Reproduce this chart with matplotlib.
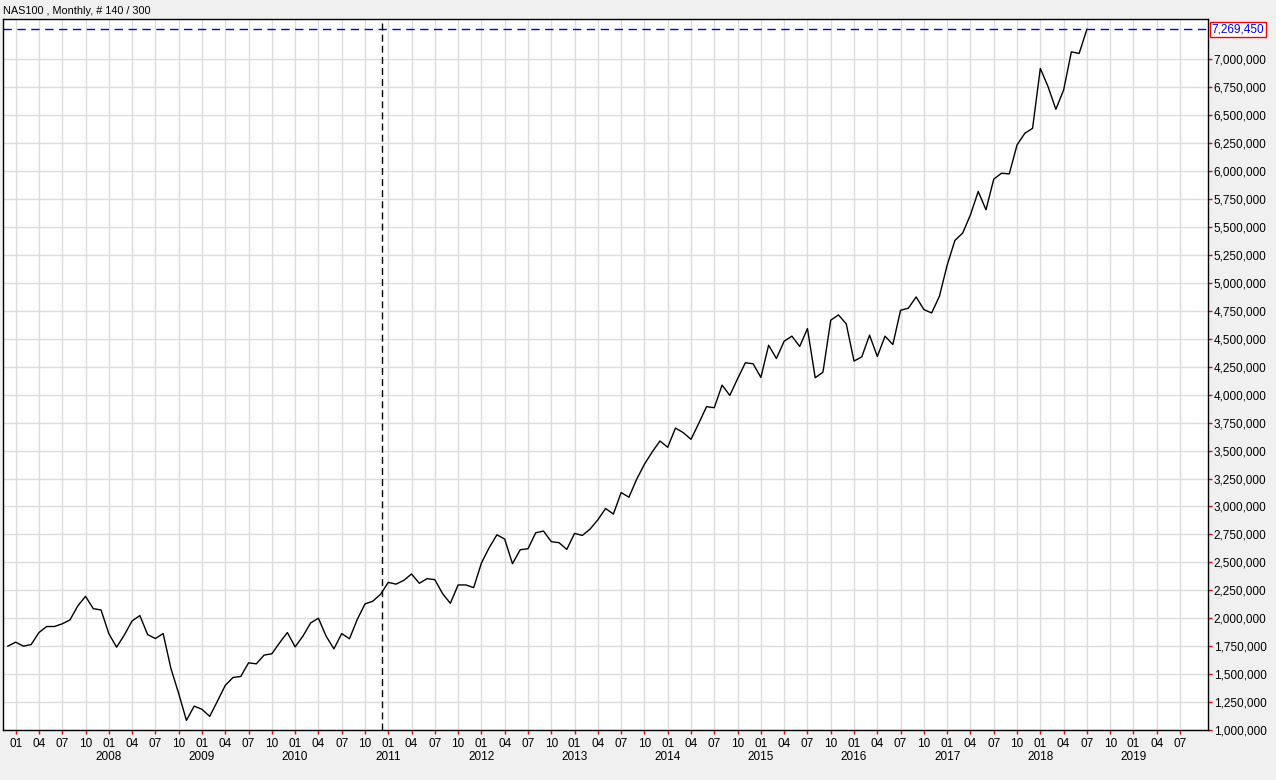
#Grafica mensual NAS100

import matplotlib.pyplot as plt

plt.rcParams["font.family"] = ["Liberation Sans", "DejaVu Sans"]

# cierres mensuales desde 12/2006 hasta 07/2018 (140 barras)
closes = [
    1750000, 1786000, 1750000, 1765000, 1872000, 1926000, 1926000, 1950000, 1985000, 2110000,
    2196000, 2086000, 2074000, 1863000, 1741000, 1850000, 1976000, 2024000, 1854000, 1818000,
    1863000, 1551000, 1327000, 1086000, 1214000, 1185000, 1122000, 1259000, 1399000, 1470000,
    1479000, 1601000, 1592000, 1670000, 1682000, 1780000, 1872000, 1744000, 1839000, 1958000,
    2000000, 1839000, 1726000, 1863000, 1816000, 1988000, 2128000, 2152000, 2214000, 2321000,
    2305000, 2339000, 2396000, 2313000, 2354000, 2345000, 2220000, 2134000, 2298000, 2298000,
    2274000, 2494000, 2631000, 2747000, 2708000, 2488000, 2613000, 2622000, 2765000, 2780000,
    2685000, 2676000, 2616000, 2759000, 2741000, 2798000, 2881000, 2982000, 2932000, 3125000,
    3083000, 3244000, 3378000, 3488000, 3586000, 3530000, 3702000, 3661000, 3601000, 3744000,
    3893000, 3884000, 4086000, 3994000, 4143000, 4286000, 4277000, 4155000, 4443000, 4324000,
    4479000, 4524000, 4432000, 4592000, 4152000, 4202000, 4667000, 4714000, 4634000, 4301000,
    4339000, 4533000, 4342000, 4524000, 4449000, 4756000, 4774000, 4875000, 4762000, 4732000,
    4881000, 5160000, 5381000, 5447000, 5610000, 5819000, 5655000, 5929000, 5982000, 5976000,
    6235000, 6339000, 6384000, 6920000, 6756000, 6554000, 6726000, 7068000, 7054000, 7269450,
]
months = list(range(len(closes)))  # 0 = 12/2006

month_labels = ["01", "04", "07", "10"]
years = list(range(2008, 2020))
last_price = 7269450
cursor_month = 48.25

fig = plt.figure(figsize=(12.76, 7.80), dpi=100, facecolor="#f0f0f0")
ax = fig.add_axes([3 / 1276, 50 / 780, 1205 / 1276, 711 / 780])
ax.set_facecolor("white")

ax.plot(months, closes, color="black", lw=1)

# ejes
ax.set_xlim(-0.63, 154.6)
ax.set_ylim(1000000, 7362000)

xt = list(range(1, 152, 3))
ax.set_xticks(xt)
ax.set_xticklabels([month_labels[(t - 1) // 3 % 4] for t in xt])
yt = list(range(1000000, 7000001, 250000))
ax.set_yticks(yt)
ax.set_yticklabels([f"{v:,}" for v in yt])
ax.yaxis.tick_right()

ax.tick_params(axis="both", direction="out", length=3, width=1, color="red", labelsize=8.5)
ax.tick_params(axis="x", pad=3)
ax.tick_params(axis="y", pad=1)
ax.grid(True, color="#dcdcdc", lw=1)
ax.set_axisbelow(True)
for s in ax.spines.values():
    s.set_color("black")
    s.set_linewidth(1)

# años debajo del mes 01
for k, y in enumerate(years):
    ax.text(13 + 12 * k, -0.0375, str(y), transform=ax.get_xaxis_transform(),
            ha="center", va="center", fontsize=8.5)

# ultimo precio y cursor
ax.axhline(last_price, color="#0000ff", lw=1, dashes=(6, 4))
ax.axvline(cursor_month, color="black", lw=1, dashes=(5, 3))
ax.text(1.0028, last_price, f"{last_price:,}", transform=ax.get_yaxis_transform(),
        ha="left", va="center", fontsize=8.5, color="#0000ff",
        bbox=dict(boxstyle="square,pad=0.15", fc="white", ec="red", lw=1))

fig.text(3 / 1276, 1 - 11 / 780, "NAS100 , Monthly, # 140 / 300", ha="left", va="center",
         fontsize=7.8)

plt.savefig("out.png", dpi=100, facecolor=fig.get_facecolor())
